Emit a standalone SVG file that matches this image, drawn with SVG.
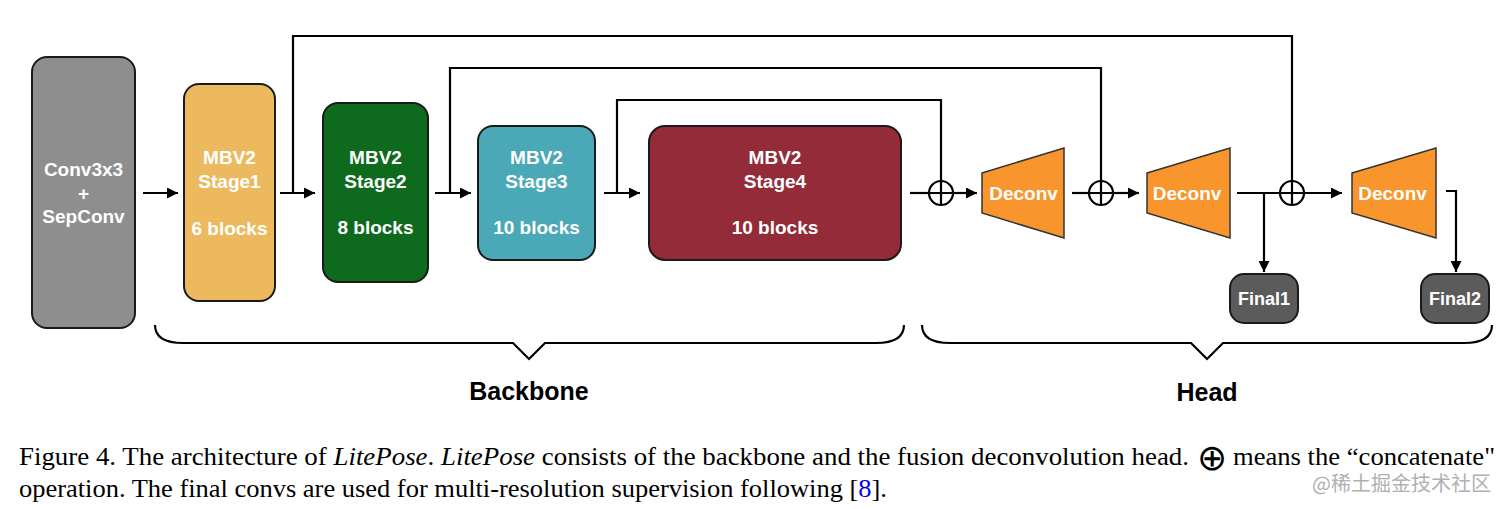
<svg xmlns="http://www.w3.org/2000/svg" width="1512" height="509" viewBox="0 0 1512 509">
<style>
.box{stroke:#1a1a1a;stroke-width:2}
.lbl{font-family:"Liberation Sans",Arial,Helvetica,sans-serif;font-weight:bold;font-size:19px;fill:#ffffff;text-anchor:middle}
.big{font-family:"Liberation Sans",Arial,Helvetica,sans-serif;font-weight:bold;font-size:25px;fill:#000;text-anchor:middle}
.wire{fill:none;stroke:#000;stroke-width:2.2}
.arr{fill:none;stroke:#000;stroke-width:2.2;marker-end:url(#ah)}
.dec{fill:#f8962d;stroke:#333;stroke-width:1.5}
.cap{font-family:"Liberation Serif","Times New Roman",serif;font-size:25px;fill:#000}
.brace{fill:none;stroke:#000;stroke-width:2.2}
</style>
<defs>
<marker id="ah" viewBox="0 0 10 10" refX="10" refY="5" markerWidth="11" markerHeight="11" markerUnits="userSpaceOnUse" orient="auto">
<path d="M0,0 L10,5 L0,10 z" fill="#000"/>
</marker>
<g id="oplus">
<circle cx="0" cy="0" r="12" fill="none" stroke="#000" stroke-width="2.2"/>
<path d="M-12,0 H12 M0,-12 V12" stroke="#000" stroke-width="2.2"/>
</g>
</defs>
<rect width="1512" height="509" fill="#ffffff"/>

<g id="connectors">
<path class="arr" d="M143,193 H178"/>
<path class="arr" d="M280,193 H315"/>
<path class="arr" d="M435,193 H471"/>
<path class="arr" d="M604,193 H640"/>
<path class="wire" d="M910,193 H929"/>
<path class="arr" d="M953,193 H977"/>
<path class="wire" d="M1072,193 H1089"/>
<path class="arr" d="M1113,193 H1139"/>
<path class="wire" d="M1237,193 H1280"/>
<path class="arr" d="M1264,193 V272"/>
<path class="arr" d="M1304,193 H1342"/>
<path class="arr" d="M1446,191 H1456 V272"/>
<path class="wire" d="M293,193 V36 H1292 V181"/>
<path class="wire" d="M450,193 V68 H1101 V181"/>
<path class="wire" d="M617,193 V100 H941 V181"/>
<use href="#oplus" x="941" y="193"/>
<use href="#oplus" x="1101" y="193"/>
<use href="#oplus" x="1292" y="193"/>
</g>

<g id="conv">
<rect class="box" x="32" y="57" width="103" height="271" rx="15" fill="#8e8e8e"/>
<text class="lbl" x="83.5" y="176">Conv3x3</text>
<text class="lbl" x="83.5" y="200">+</text>
<text class="lbl" x="83.5" y="223">SepConv</text>
</g>
<g id="stage1">
<rect class="box" x="184" y="84" width="91" height="217" rx="15" fill="#edb95e"/>
<text class="lbl" x="229.5" y="164">MBV2</text>
<text class="lbl" x="229.5" y="188">Stage1</text>
<text class="lbl" x="229.5" y="235">6 blocks</text>
</g>
<g id="stage2">
<rect class="box" x="323" y="103" width="105" height="179" rx="15" fill="#0e6b1d"/>
<text class="lbl" x="375.5" y="164">MBV2</text>
<text class="lbl" x="375.5" y="188">Stage2</text>
<text class="lbl" x="375.5" y="234">8 blocks</text>
</g>
<g id="stage3">
<rect class="box" x="478" y="126" width="117" height="134" rx="15" fill="#4ba8b6"/>
<text class="lbl" x="536.5" y="164">MBV2</text>
<text class="lbl" x="536.5" y="188">Stage3</text>
<text class="lbl" x="536.5" y="234">10 blocks</text>
</g>
<g id="stage4">
<rect class="box" x="649" y="126" width="252" height="134" rx="16" fill="#932b38"/>
<text class="lbl" x="775" y="164">MBV2</text>
<text class="lbl" x="775" y="188">Stage4</text>
<text class="lbl" x="775" y="234">10 blocks</text>
</g>
<g id="deconv1">
<polygon class="dec" points="982,173 1064,148 1064,238 982,213"/>
<text class="lbl" x="1023.5" y="200">Deconv</text>
</g>
<g id="deconv2">
<polygon class="dec" points="1147,173 1230,148 1230,238 1147,213"/>
<text class="lbl" x="1187" y="200">Deconv</text>
</g>
<g id="deconv3">
<polygon class="dec" points="1352,173 1436,148 1436,238 1352,213"/>
<text class="lbl" x="1392.5" y="200">Deconv</text>
</g>
<g id="final1">
<rect class="box" x="1230" y="274" width="68" height="49" rx="14" fill="#5b5b5b"/>
<text class="lbl" x="1264" y="305" style="font-size:18px">Final1</text>
</g>
<g id="final2">
<rect class="box" x="1421" y="274" width="68" height="49" rx="14" fill="#5b5b5b"/>
<text class="lbl" x="1455" y="305" style="font-size:18px">Final2</text>
</g>

<g id="backbone">
<path class="brace" d="M155,325 C155,337 164,343 183,343 H513 L529,359 L545,343 H876 C895,343 904,337 904,325"/>
<text class="big" x="529" y="400">Backbone</text>
</g>
<g id="head">
<path class="brace" d="M922,325 C922,337 931,343 950,343 H1191 L1207,359 L1223,343 H1464 C1483,343 1492,337 1492,325"/>
<text class="big" x="1207" y="401">Head</text>
</g>

<g id="caption">
<text class="cap" x="19" y="465" textLength="1170" lengthAdjust="spacingAndGlyphs">Figure 4. The architecture of <tspan font-style="italic">LitePose</tspan>. <tspan font-style="italic">LitePose</tspan> consists of the backbone and the fusion deconvolution head.</text>
<text x="1212" y="470" style="font-family:'DejaVu Sans',sans-serif;font-size:36px;text-anchor:middle;fill:#000">⊕</text>
<text class="cap" x="1233" y="465" textLength="262" lengthAdjust="spacingAndGlyphs">means the “concatenate"</text>
<text class="cap" x="19" y="497" textLength="868" lengthAdjust="spacingAndGlyphs">operation. The final convs are used for multi-resolution supervision following [<tspan fill="#0000ee">8</tspan>].</text>
<text x="1312" y="491" style="font-family:'Noto Sans CJK SC',sans-serif;font-size:20px;fill:#b0b0b0">@稀土掘金技术社区</text>
</g>
</svg>
